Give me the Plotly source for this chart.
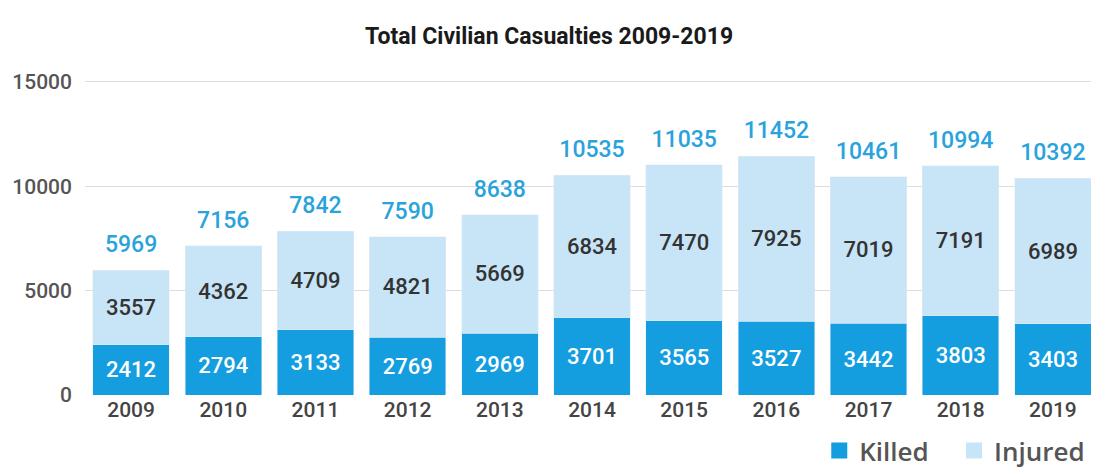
import plotly.graph_objects as go

years = ["2009","2010","2011","2012","2013","2014","2015","2016","2017","2018","2019"]
killed = [2412, 2794, 3133, 2769, 2969, 3701, 3565, 3527, 3442, 3803, 3403]
injured = [3557, 4362, 4709, 4821, 5669, 6834, 7470, 7925, 7019, 7191, 6989]
totals = [5969, 7156, 7842, 7590, 8638, 10535, 11035, 11452, 10461, 10994, 10392]
y_ticks = [0, 5000, 10000, 15000]

FONT = "Roboto, sans-serif"
KILLED_C = "#149ee0"
INJURED_C = "#c7e5f7"

fig = go.Figure()
fig.add_trace(go.Bar(
    x=years, y=killed, name="Killed", marker_color=KILLED_C, showlegend=False,
    text=[str(v) for v in killed], textposition="inside", insidetextanchor="middle",
    textfont=dict(color="white", size=22, family=FONT, weight=500), textangle=0,
))
fig.add_trace(go.Bar(
    x=years, y=injured, name="Injured", marker_color=INJURED_C, showlegend=False,
    text=[str(v) for v in injured], textposition="inside", insidetextanchor="middle",
    textfont=dict(color="#333333", size=22, family=FONT, weight=500), textangle=0,
))
fig.add_trace(go.Scatter(
    x=years, y=totals, mode="markers+text", text=[str(v) for v in totals],
    marker=dict(size=18, opacity=0),
    textposition="top center", showlegend=False, hoverinfo="skip",
    textfont=dict(color="#2aa3dc", size=23, family=FONT, weight=500),
))
# legend entries with large square swatches
fig.add_trace(go.Scatter(x=[None], y=[None], mode="markers", name="Killed\u00a0\u00a0\u00a0",
                         marker=dict(symbol="square", size=24, color=KILLED_C)))
fig.add_trace(go.Scatter(x=[None], y=[None], mode="markers", name="Injured",
                         marker=dict(symbol="square", size=24, color=INJURED_C)))

fig.update_layout(
    width=1091, height=466,
    barmode="stack", bargap=0.17,
    paper_bgcolor="white", plot_bgcolor="white",
    margin=dict(l=77, r=0, t=67, b=79, autoexpand=False),
    title=dict(text="Total Civilian Casualties 2009-2019", x=0.496, xanchor="center",
               y=0.94, yanchor="middle",
               font=dict(size=23, color="#1a1a1a", family=FONT, weight=700)),
    uniformtext=dict(minsize=10, mode="show"),
    legend=dict(orientation="h", x=0.992, xanchor="right", xref="container",
                y=0.0, yanchor="bottom", yref="container",
                font=dict(size=26, color="#555555", family="Open Sans, sans-serif", weight=600),
                itemsizing="trace", traceorder="normal", itemwidth=30, tracegroupgap=0),
    font=dict(family=FONT),
)
fig.update_yaxes(range=[0, 15335], tickvals=y_ticks, ticktext=[str(v) for v in y_ticks],
                 showgrid=True, gridcolor="#dddddd", gridwidth=1, zeroline=False,
                 tickfont=dict(size=21, color="#555555", family=FONT, weight=500),
                 ticks="", ticklabelstandoff=12, automargin=False)
fig.update_xaxes(range=[-0.5, len(years) - 0.5],
                 tickfont=dict(size=21, color="#444444", family=FONT, weight=500),
                 showline=False, ticks="", automargin=False)

fig.write_html("out.html")
